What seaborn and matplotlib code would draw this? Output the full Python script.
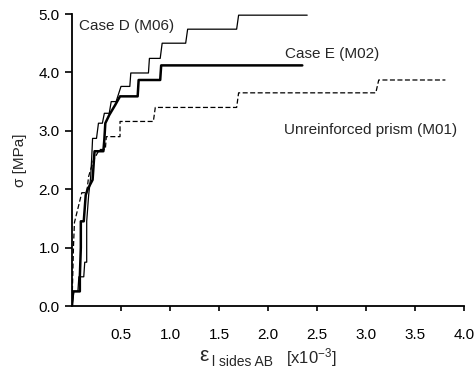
import pandas as pd
import matplotlib.pyplot as plt
import seaborn as sns

# strain [x10^-3] and stress [MPa]
case_d_strain = [0.0, 0.02, 0.06, 0.07, 0.12, 0.13, 0.15, 0.15, 0.17, 0.19, 0.20, 0.21, 0.25,
                 0.27, 0.31, 0.33, 0.38, 0.40, 0.45, 0.50, 0.59, 0.60, 0.78, 0.79, 0.90,
                 0.92, 1.16, 1.18, 1.68, 1.70, 2.40]
case_d_stress = [0.0, 0.25, 0.25, 0.50, 0.50, 0.75, 0.75, 1.45, 1.90, 2.20, 2.50, 2.87, 2.87,
                 3.13, 3.13, 3.30, 3.30, 3.50, 3.50, 3.76, 3.76, 3.99, 3.99, 4.24, 4.24,
                 4.50, 4.50, 4.74, 4.74, 4.98, 4.98]

case_e_strain = [0.0, 0.01, 0.08, 0.08, 0.09, 0.09, 0.12, 0.14, 0.16, 0.21, 0.23, 0.32, 0.33,
                 0.34, 0.38, 0.44, 0.49, 0.67, 0.68, 0.90, 0.91, 2.35]
case_e_stress = [0.0, 0.25, 0.25, 0.50, 1.00, 1.45, 1.45, 1.90, 2.00, 2.16, 2.65, 2.65, 2.85,
                 3.13, 3.27, 3.44, 3.59, 3.59, 3.87, 3.87, 4.12, 4.12]

unreinf_strain = [0.0, 0.015, 0.025, 0.10, 0.15, 0.17, 0.22, 0.28, 0.34, 0.35, 0.49, 0.49,
                  0.83, 0.85, 1.68, 1.70, 3.10, 3.13, 3.81]
unreinf_stress = [0.0, 1.02, 1.43, 1.94, 1.94, 2.22, 2.50, 2.68, 2.68, 2.90, 2.90, 3.16,
                  3.16, 3.40, 3.40, 3.65, 3.65, 3.87, 3.87]

x_ticks = [0.5, 1.0, 1.5, 2.0, 2.5, 3.0, 3.5, 4.0]
y_ticks = [0.0, 1.0, 2.0, 3.0, 4.0, 5.0]

sns.set_style("ticks")
plt.rcParams["font.family"] = ["Liberation Sans", "DejaVu Sans"]
plt.rcParams["mathtext.fontset"] = "custom"
plt.rcParams["mathtext.rm"] = "Liberation Sans"
plt.rcParams["mathtext.it"] = "Liberation Sans"

fig = plt.figure(figsize=(4.74, 3.72), dpi=100)
ax = fig.add_axes([72 / 474, 1 - 306 / 372, 392 / 474, 292 / 372])

series = [
    (case_d_strain, case_d_stress, 0.9, ""),
    (case_e_strain, case_e_stress, 1.8, ""),
    (unreinf_strain, unreinf_stress, 0.9, (4, 2)),
]
for xs, ys, lw, dash in series:
    df = pd.DataFrame({"strain": xs, "stress": ys})
    sns.lineplot(data=df, x="strain", y="stress", sort=False, estimator=None,
                 color="black", linewidth=lw, ax=ax)
    if dash:
        ax.lines[-1].set_dashes(dash)

ax.set_xlim(0, 4.0)
ax.set_ylim(0, 5.0)
ax.set_xticks(x_ticks)
ax.set_xticklabels([f"{v:.1f}" for v in x_ticks])
ax.set_yticks(y_ticks)
ax.set_yticklabels([f"{v:.1f}" for v in y_ticks])
ax.tick_params(axis="y", length=5, width=1.2, pad=4, labelsize=11, colors="black")
ax.tick_params(axis="x", length=3.5, width=1.2, pad=12, labelsize=11, colors="black")
for side in ["top", "right"]:
    ax.spines[side].set_visible(False)
for side in ["left", "bottom"]:
    ax.spines[side].set_linewidth(1.3)
    ax.spines[side].set_color("black")

ax.set_xlabel("")
ax.set_ylabel("σ [MPa]", fontsize=11, labelpad=8)

ax.text(0.07, 4.79, "Case D (M06)", fontsize=11, va="center", ha="left")
ax.text(2.17, 4.32, "Case E (M02)", fontsize=11, va="center", ha="left")
ax.text(2.16, 3.02, "Unreinforced prism (M01)", fontsize=11, va="center", ha="left")

# x-axis label in pieces: epsilon with subscript, then the scale factor
fig.text(199 / 474, 1 - 361 / 372, "ε", fontsize=15, va="baseline", ha="left")
fig.text(212 / 474, 1 - 366 / 372, "l sides AB", fontsize=10, va="baseline", ha="left")
fig.text(286 / 474, 1 - 363 / 372, r"[x10$^{\mathrm{-3}}$]", fontsize=12,
         va="baseline", ha="left")

plt.savefig("out.png", dpi=100)
